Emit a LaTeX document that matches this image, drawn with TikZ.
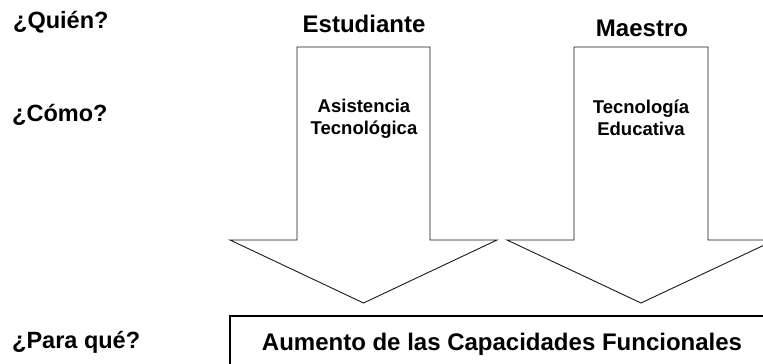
\documentclass[tikz,border=0pt]{standalone}
\usepackage{fontspec}
\setmainfont{Liberation Sans}
\usepackage{tikz}
\tikzset{
  pregunta/.style={font=\bfseries\fontsize{23.5}{27}\selectfont, inner sep=0pt, anchor=base west},
  quien/.style={font=\bfseries\fontsize{24}{27}\selectfont, inner sep=0pt, anchor=base},
  como/.style={font=\bfseries\fontsize{18.5}{22}\selectfont, inner sep=0pt, align=center},
  flecha/.style={draw=black!90, line width=0.9pt, fill=white}
}
\begin{document}
\begin{tikzpicture}[x=1pt,y=-1pt]

  \useasboundingbox (0,0) rectangle (763,364);
  \clip (0,0) rectangle (763,364);

  \newcommand\Top{47}
  \newcommand\Sh{240}
  \newcommand\Tip{303}

  %% left column
  \node[pregunta] (quien) at (13,28) {¿Quién?};
  \node[pregunta] (como) at (12,121) {¿Cómo?};
  \node[pregunta] (paraque) at (12,348) {¿Para qué?};

  %% arrow: Estudiante
  \draw[flecha] (297,\Top) -- (430,\Top) -- (430,\Sh) -- (497,\Sh) -- (363.5,\Tip)
    -- (230,\Sh) -- (297,\Sh) -- cycle;
  %% arrow: Maestro
  \draw[flecha] (574,\Top) -- (708,\Top) -- (708,\Sh) -- (775,\Sh) -- (641,\Tip)
    -- (507,\Sh) -- (574,\Sh) -- cycle;

  \node[quien] (estudiante) at (364,32) {Estudiante};
  \node[quien] (maestro) at (642,36) {Maestro};

  \node[como] (asistencia) at (364,118.5) {Asistencia\\Tecnológica};
  \node[como] (tecnologia) at (641,118) {Tecnología\\Educativa};

  %% result
  \node[draw, line width=2pt, minimum width=544pt, minimum height=56pt,
        font=\bfseries\fontsize{24}{27}\selectfont, inner sep=0pt]
    (aumento) at (502,344) {Aumento de las Capacidades Funcionales};

\end{tikzpicture}
\end{document}
